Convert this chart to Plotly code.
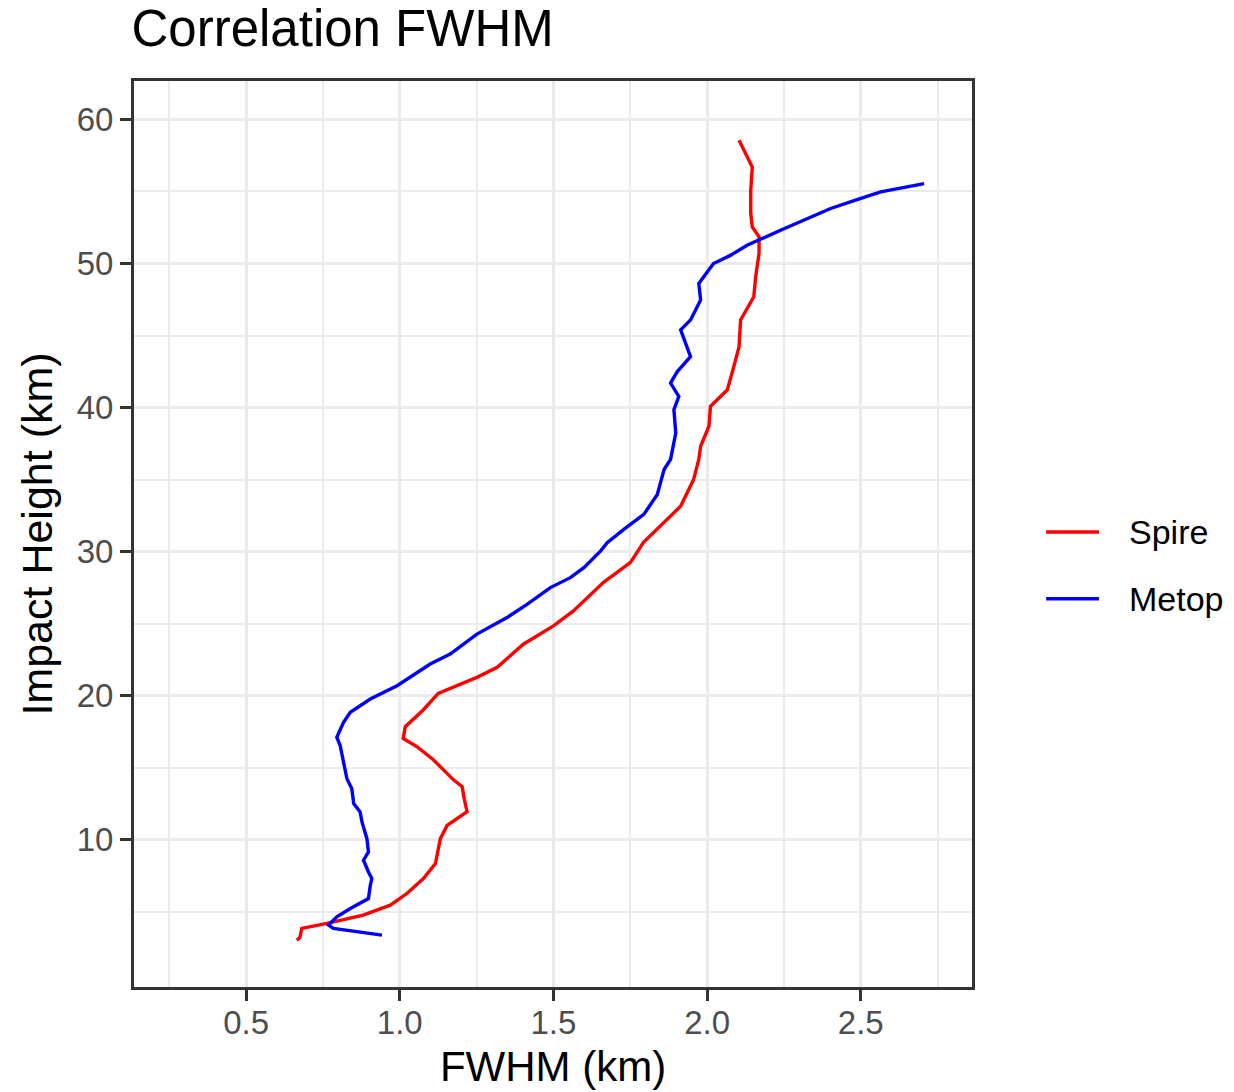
import plotly.graph_objects as go

# ---- data ----
spire_height = [3.03, 3.20, 3.84, 4.19, 4.76, 5.45, 6.26, 7.30, 8.34, 9.20, 10.07, 10.99, 11.94,
                12.80, 13.68, 14.17, 15.55, 16.45, 17.03, 17.84, 19.02, 20.15, 21.27, 21.96,
                23.57, 24.84, 25.88, 27.87, 29.25, 30.64, 32.02, 33.15, 35.00, 36.39, 37.31,
                38.70, 40.08, 41.23, 42.85, 44.23, 46.08, 47.69, 49.08, 50.70, 51.85, 52.54,
                53.47, 55.08, 56.70, 57.62, 58.55]
spire_fwhm = [0.665, 0.675, 0.681, 0.763, 0.881, 0.969, 1.023, 1.077, 1.116, 1.125, 1.132, 1.154, 1.219,
              1.210, 1.203, 1.174, 1.109, 1.056, 1.011, 1.018, 1.077, 1.125, 1.251, 1.317,
              1.402, 1.500, 1.565, 1.663, 1.751, 1.793, 1.858, 1.914, 1.956, 1.973, 1.979,
              2.006, 2.011, 2.066, 2.087, 2.104, 2.109, 2.152, 2.158, 2.169, 2.169, 2.147,
              2.142, 2.142, 2.147, 2.125, 2.104]

metop_height = [3.37, 3.84, 4.07, 4.65, 5.22, 5.57, 5.91, 6.83, 7.30, 7.76, 8.57, 9.15, 10.07,
                11.23, 11.92, 12.50, 13.54, 14.23, 14.93, 16.53, 17.11, 18.15, 18.84, 19.76,
                20.69, 21.15, 22.19, 22.88, 24.27, 25.42, 26.34, 27.50, 28.19, 28.88, 30.03,
                30.61, 31.54, 32.58, 33.96, 35.70, 36.39, 38.23, 39.85, 40.77, 41.70, 42.50,
                43.54, 45.39, 46.08, 47.47, 48.62, 49.43, 50.00, 50.58, 51.27, 52.31, 53.12,
                53.82, 54.43, 54.97, 55.55]
metop_fwhm = [0.942, 0.784, 0.768, 0.795, 0.839, 0.871, 0.898, 0.904, 0.909, 0.898, 0.882, 0.898, 0.893,
              0.877, 0.871, 0.850, 0.844, 0.828, 0.822, 0.806, 0.795, 0.817, 0.839, 0.904,
              0.991, 1.023, 1.099, 1.164, 1.251, 1.349, 1.414, 1.490, 1.555, 1.599, 1.653,
              1.675, 1.729, 1.794, 1.838, 1.860, 1.881, 1.898, 1.892, 1.908, 1.881, 1.903,
              1.946, 1.914, 1.946, 1.979, 1.973, 2.001, 2.021, 2.077, 2.130, 2.239, 2.326,
              2.402, 2.488, 2.565, 2.706]

series_names = ["Spire", "Metop"]
series_colors = ["#FF0000", "#0000FF"]

x_ticks = [0.5, 1.0, 1.5, 2.0, 2.5]
x_ticklabels = ["0.5", "1.0", "1.5", "2.0", "2.5"]
y_ticks = [10, 20, 30, 40, 50, 60]
y_ticklabels = ["10", "20", "30", "40", "50", "60"]

FONT = "Liberation Sans, Arial, Helvetica, sans-serif"

fig = go.Figure()
for name, xs, ys, col in [(series_names[0], spire_fwhm, spire_height, series_colors[0]),
                          (series_names[1], metop_fwhm, metop_height, series_colors[1])]:
    fig.add_trace(go.Scatter(x=xs, y=ys, mode="lines", name=name, showlegend=False,
                             line=dict(color=col, width=3.4)))

# legend drawn as keys + labels to the right of the panel (paper coordinates)
legend_y = [0.5022, 0.4286]
for name, col, ly in zip(series_names, series_colors, legend_y):
    fig.add_shape(type="line", xref="paper", yref="paper", x0=1.0885, x1=1.1515, y0=ly, y1=ly,
                  line=dict(color=col, width=3.4))
    fig.add_annotation(text=name, xref="paper", yref="paper", x=1.1853, y=ly,
                       xanchor="left", yanchor="middle", showarrow=False,
                       font=dict(family=FONT, size=34, color="black"))

axis_common = dict(
    showline=True, linecolor="#333333", linewidth=3, mirror=True,
    ticks="outside", ticklen=11, tickwidth=3, tickcolor="#333333",
    showgrid=True, gridcolor="#EBEBEB", gridwidth=3,
    zeroline=False, automargin=False,
    tickfont=dict(family=FONT, size=33, color="#4D4D4D"),
)

fig.update_layout(
    width=1234, height=1092,
    margin=dict(l=133.5, r=262, t=80.5, b=104.5),
    paper_bgcolor="white", plot_bgcolor="white",
    font=dict(family=FONT, color="black"),
    showlegend=False,
    title=dict(text="Correlation FWHM", x=131.5 / 1234, xref="container", xanchor="left",
               y=1 - 28 / 1092, yref="container", yanchor="middle",
               font=dict(family=FONT, size=51, color="black")),
    xaxis=dict(axis_common, range=[0.1351, 2.862], tickvals=x_ticks, ticktext=x_ticklabels,
               ticklabelstandoff=-7,
               minor=dict(dtick=0.25, tick0=0.25, showgrid=True, gridcolor="#EBEBEB", gridwidth=1.6),
               title=dict(text="FWHM (km)", font=dict(family=FONT, size=42, color="black"), standoff=13)),
    yaxis=dict(axis_common, range=[-0.229, 62.67], tickvals=y_ticks, ticktext=y_ticklabels,
               minor=dict(dtick=10, tick0=5, showgrid=True, gridcolor="#EBEBEB", gridwidth=1.6),
               title=dict(text="Impact Height (km)", font=dict(family=FONT, size=43, color="black"), standoff=11)),
)

fig.write_html("out.html")
